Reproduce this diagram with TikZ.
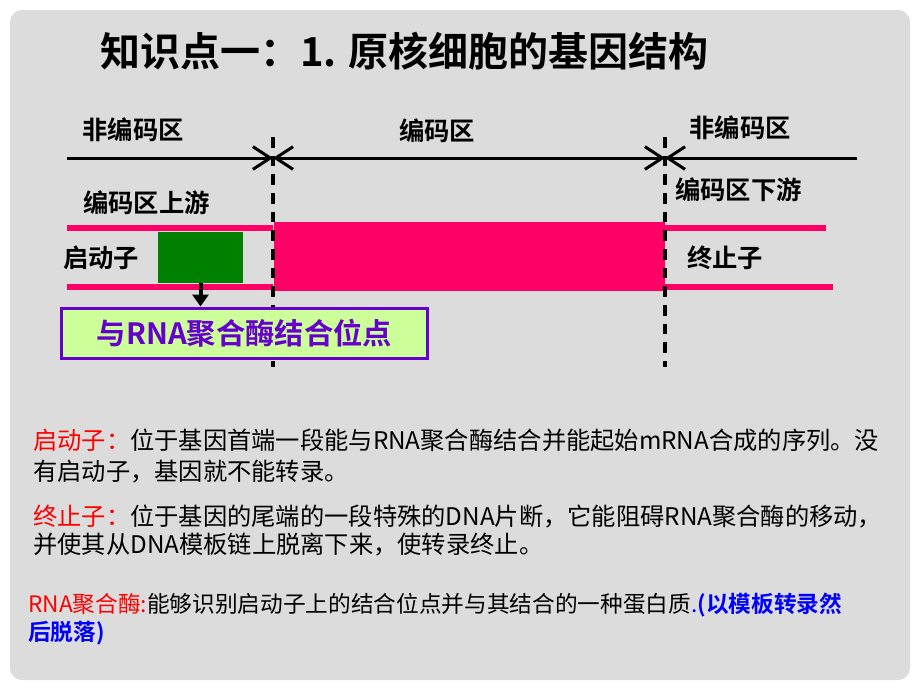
\documentclass[tikz,border=0pt]{standalone}
\usepackage{fontspec}
\setmainfont{Noto Sans CJK SC}[BoldFont={Noto Sans CJK SC Bold}]
\usetikzlibrary{arrows.meta}
\usetikzlibrary{positioning}
\definecolor{cPink}{HTML}{FF0066}
\definecolor{cGreen}{HTML}{008000}
\definecolor{cPurple}{HTML}{6600CC}
\definecolor{cLime}{HTML}{CCFF99}
\definecolor{cBack}{HTML}{DCDCDC}
\tikzset{
  barb/.tip={Straight Barb[length=13pt,width=17pt]},
  axis/.style={line width=2.25pt},
  border/.style={line width=2.5pt, dash pattern=on 8pt off 6pt},
  strand/.style={cPink, line width=4.5pt},
  lbl/.style={font=\bfseries\fontsize{19}{19}\selectfont, inner sep=0pt},
  body/.style={font=\fontsize{18.2}{18.2}\selectfont, inner sep=0pt, anchor=west},
}

\begin{document}
\begin{tikzpicture}[x=0.75pt,y=-0.75pt]
	\useasboundingbox (0,0) rectangle (920,690);
	\fill [cBack, rounded corners=9pt] (10,10) rectangle (910,680);
	\node [anchor=west, inner sep=0pt, font=\bfseries\fontsize{30}{30}\selectfont] (title) at (100,51) {知识点一：1. 原核细胞的基因结构};
	% regions
	\node [lbl] (nc1) at (133,130) {非编码区};
	\node [lbl] (cr) at (437,131) {编码区};
	\node [lbl] (nc2) at (740,128) {非编码区};
	\coordinate (lEnd) at (67,158);
	\coordinate (b1) at (273,158);
	\coordinate (b2) at (665,158);
	\coordinate (rEnd) at (857,158);
	\draw [axis, -barb] (lEnd) -- (b1);
	\draw [axis, barb-barb] (b1) -- (b2);
	\draw [axis, -barb] (rEnd) -- (b2);
	\node [lbl, anchor=west] (upst) at (83,203) {编码区上游};
	\node [lbl, anchor=west] (downst) at (675,190) {编码区下游};
	% DNA
	\draw [strand] (67,228) -- (273,228) (67,287) -- (273,287);
	\draw [strand] (665,228) -- (826,228) (665,287) -- (833,287);
	\fill [cPink] (274,222) rectangle (665,291);
	\node [fill=cGreen, inner sep=0pt, minimum width=63.75pt, minimum height=38.25pt] (prom) at (200.5,257.5) {};
	\node [lbl, anchor=west] (promlbl) at (63,258) {启动子};
	\node [lbl, anchor=west] (termlbl) at (687,258) {终止子};
	\coordinate (b1top) at (273,137);
	\coordinate (b1bot) at (273,367);
	\coordinate (b2top) at (665,137);
	\coordinate (b2bot) at (665,367);
	\draw [border] (b1top) -- (b1bot);
	\draw [border] (b2top) -- (b2bot);
	\node [draw=cPurple, line width=2.25pt, fill=cLime, minimum width=275pt, minimum height=37.5pt, text=cPurple, font=\bfseries\fontsize{22}{22}\selectfont] (site) at (244.5,333) {与RNA聚合酶结合位点};
	\draw [line width=3pt, -{Triangle[length=9pt,width=12pt]}] (prom.south) -- (prom.south |- site.north);
	% notes
	\node [body] (p1) at (33,440) {\textcolor{red}{启动子：}位于基因首端一段能与RNA聚合酶结合并能起始mRNA合成的序列。没};
	\node [body] (p2) at (33,472) {有启动子，基因就不能转录。};
	\node [body] (t1) at (33,517) {\textcolor{red}{终止子：}位于基因的尾端的一段特殊的DNA片断，它能阻碍RNA聚合酶的移动，};
	\node [body] (t2) at (33,545) {并使其从DNA模板链上脱离下来，使转录终止。};
	\node [body, font=\fontsize{17}{17}\selectfont] (r1) at (28,605) {\textcolor{red}{RNA聚合酶:}能够识别启动子上的结合位点并与其结合的一种蛋白质\textcolor{blue}{.\textbf{(以模板转录然}}};
	\node [body, font=\fontsize{17}{17}\selectfont] (r2) at (28,633) {\textcolor{blue}{\textbf{后脱落)}}};
\end{tikzpicture}
\end{document}
